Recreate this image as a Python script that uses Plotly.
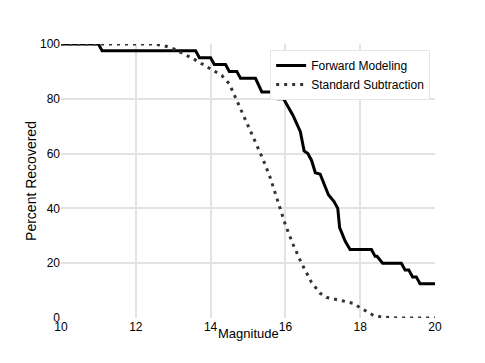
import plotly.graph_objects as go

# Forward modeling recovery curve
fm_mag = [10, 11.0, 11.1, 13.6, 13.7, 14.0, 14.1, 14.4, 14.5, 14.7, 14.8, 15.2, 15.37, 15.72, 15.8,
          15.95, 16.2, 16.4, 16.5, 16.6, 16.7, 16.8, 16.93, 17.0, 17.15, 17.3, 17.4, 17.45, 17.6,
          17.73, 18.3, 18.4, 18.45, 18.6, 19.1, 19.2, 19.3, 19.4, 19.5, 19.6, 20]
fm_pct = [100, 100, 97.5, 97.5, 95, 95, 92.5, 92.5, 90, 90, 87.5, 87.5, 82.5, 82.5, 80,
          80, 74, 68, 61, 60, 57.5, 53, 52.5, 50, 45, 42.5, 40, 33, 28,
          25, 25, 22.5, 22.5, 20, 20, 17.5, 17.5, 15, 15, 12.5, 12.5]

# Standard subtraction recovery curve
ss_mag = [10, 12.5, 12.7, 12.85, 13.05, 13.2, 13.35, 13.55, 13.8, 14.05, 14.3, 14.5, 14.65, 14.8,
          15.0, 15.2, 15.4, 15.6, 15.85, 16.0, 16.2, 16.43, 16.7, 16.93, 17.1, 17.3, 17.55, 17.8,
          18.08, 18.35, 18.6, 19.0, 20]
ss_pct = [100, 100, 99.5, 99, 98, 97, 96, 94.5, 92.5, 90.5, 88.5, 85.5, 81, 76,
          70, 64.5, 58, 51, 40, 34, 27, 20, 13, 9, 7.5, 7, 6.2, 5.4,
          3, 1, 0.3, 0, 0]

fig = go.Figure()
fig.add_trace(go.Scatter(x=fm_mag, y=fm_pct, mode='lines', name='Forward Modeling',
                         line=dict(color='black', width=3)))
fig.add_trace(go.Scatter(x=ss_mag, y=ss_pct, mode='lines', name='Standard Subtraction',
                         line=dict(color='#333333', width=3, dash='3px,5px')))

font = dict(family='Liberation Sans, Arial, sans-serif', size=12, color='black')
# page body has an 8px margin, so the margins are shifted to compensate
fig.update_layout(
    width=485, height=363,
    margin=dict(l=53, r=58, t=36, b=53),
    paper_bgcolor='white', plot_bgcolor='white',
    font=font,
    legend=dict(x=0.987, y=0.978, xanchor='right', yanchor='top',
                bgcolor='white', bordercolor='#e6e6e6', borderwidth=1,
                tracegroupgap=0,
                font=dict(family='Liberation Sans, Arial, sans-serif', size=12, color='black')),
    xaxis=dict(range=[10, 20], dtick=2, showgrid=True, gridcolor='#e3e3e3', gridwidth=1.5,
               zeroline=False, showline=False, ticks='', ticklen=0),
    yaxis=dict(range=[0, 100], dtick=20, showgrid=True, gridcolor='#e3e3e3', gridwidth=1.5,
               zeroline=False, showline=False, ticks='',
               title=dict(text='Percent Recovered', standoff=0)),
    annotations=[dict(text='Magnitude', x=0.5, y=-0.055, xref='paper', yref='paper',
                      xanchor='center', yanchor='middle', showarrow=False,
                      font=dict(family='Liberation Sans, Arial, sans-serif', size=13, color='black'))],
)
fig.write_html("out.html")
